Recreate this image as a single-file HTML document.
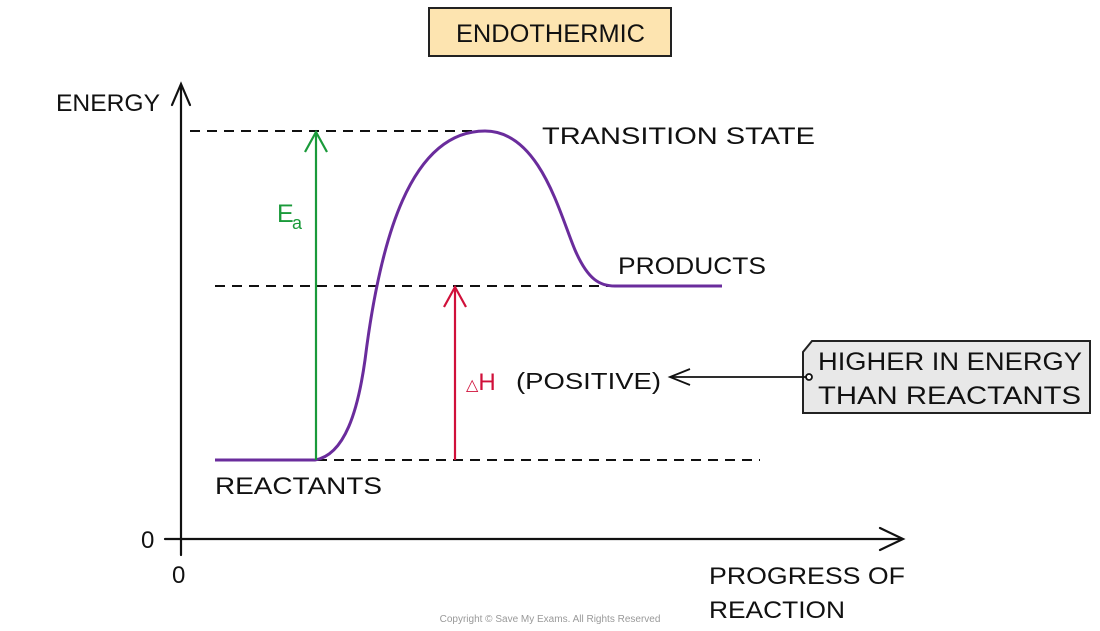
<!DOCTYPE html>
<html><head><meta charset="utf-8"><style>
body{margin:0;background:#fff;}
svg{display:block;}
text{font-family:"Liberation Sans",sans-serif;}
</style></head><body>
<svg width="1100" height="631" viewBox="0 0 1100 631" xmlns="http://www.w3.org/2000/svg">
<rect x="429" y="8" width="242" height="48" fill="#fde4b0" stroke="#222" stroke-width="2"/>
<text x="456" y="42" font-size="25" textLength="189" lengthAdjust="spacingAndGlyphs" fill="#111">ENDOTHERMIC</text>
<g stroke="#111" stroke-width="2.2" fill="none" stroke-linecap="round">
<line x1="181" y1="86" x2="181" y2="555"/>
<polyline points="172,105 181,84 190,105"/>
<line x1="165" y1="539" x2="902" y2="539"/>
<polyline points="880,528 903,539 880,550"/>
</g>
<text x="56" y="111" font-size="24" textLength="104" lengthAdjust="spacingAndGlyphs" fill="#111">ENERGY</text>
<text x="141" y="548" font-size="24" fill="#111">0</text>
<text x="172" y="583" font-size="24" fill="#111">0</text>
<text x="709" y="584" font-size="24" textLength="196" lengthAdjust="spacingAndGlyphs" fill="#111">PROGRESS OF</text>
<text x="709" y="618" font-size="24" textLength="136" lengthAdjust="spacingAndGlyphs" fill="#111">REACTION</text>
<g stroke="#111" stroke-width="2" stroke-dasharray="10,7">
<line x1="190" y1="131" x2="480" y2="131"/>
<line x1="215" y1="286" x2="610" y2="286"/>
<line x1="215" y1="460" x2="760" y2="460"/>
</g>
<path d="M215,460 L315,460 C345,455 358,410 365,360 C380,240 410,131 485,131 C540,131 560,215 575,250 C588,280 600,286 615,286 L722,286" stroke="#6a2c9c" stroke-width="3" fill="none"/>
<g stroke="#1a9a3a" stroke-width="2.2" fill="none">
<line x1="316" y1="460" x2="316" y2="133"/>
<polyline points="305,152 316,132 327,152"/>
</g>
<text x="277" y="222" font-size="25" fill="#1a9a3a">E</text>
<text x="292" y="229" font-size="18" fill="#1a9a3a">a</text>
<g stroke="#d0103a" stroke-width="2.2" fill="none">
<line x1="455" y1="460" x2="455" y2="288"/>
<polyline points="444,307 455,287 466,307"/>
</g>
<text x="466" y="390" font-size="24" fill="#d0103a"><tspan font-size="16">△</tspan>H</text>
<text x="516" y="389" font-size="23" textLength="145" lengthAdjust="spacingAndGlyphs" fill="#111">(POSITIVE)</text>
<text x="542" y="144" font-size="24" textLength="273" lengthAdjust="spacingAndGlyphs" fill="#111">TRANSITION STATE</text>
<text x="618" y="274" font-size="24" textLength="148" lengthAdjust="spacingAndGlyphs" fill="#111">PRODUCTS</text>
<text x="215" y="494" font-size="24" textLength="167" lengthAdjust="spacingAndGlyphs" fill="#111">REACTANTS</text>
<path d="M812,341 L1090,341 L1090,413 L803,413 L803,352 Z" fill="#e8e8e8" stroke="#222" stroke-width="2"/>
<text x="818" y="370" font-size="25" textLength="264" lengthAdjust="spacingAndGlyphs" fill="#111">HIGHER IN ENERGY</text>
<text x="818" y="404" font-size="25" textLength="263" lengthAdjust="spacingAndGlyphs" fill="#111">THAN REACTANTS</text>
<g stroke="#111" stroke-width="1.8" fill="none">
<line x1="806" y1="377" x2="672" y2="377"/>
<polyline points="690,369 670,377 690,385"/>
<circle cx="809" cy="377" r="3" fill="#fff"/>
</g>
<text x="550" y="622" font-size="10" fill="#999" text-anchor="middle">Copyright © Save My Exams. All Rights Reserved</text>
</svg>
</body></html>
